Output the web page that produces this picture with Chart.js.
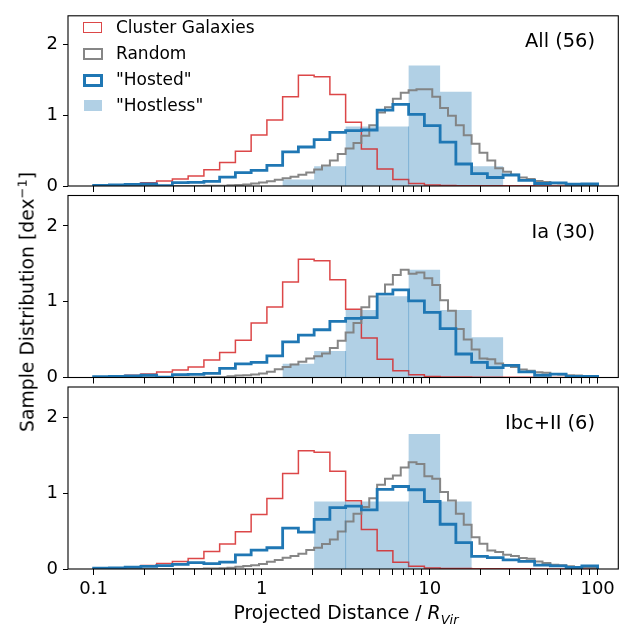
<!DOCTYPE html>
<html>
<head>
<meta charset="utf-8">
<script src="https://cdn.jsdelivr.net/npm/chart.js@4/dist/chart.umd.min.js"></script>
<style>
  html, body { margin: 0; padding: 0; background: #fff; }
  #wrap { position: relative; width: 643px; height: 631px; overflow: hidden; font-family: 'DejaVu Sans', sans-serif; color: #000; }
  #wrap canvas { position: absolute; left: 0; top: 0; }
  .txt { position: absolute; white-space: nowrap; }
  .box { position: absolute; box-sizing: border-box; }
</style>
</head>
<body>
<div id="wrap">
  <canvas id="c1" width="643" height="631"></canvas>
  <canvas id="c2" width="643" height="631"></canvas>
  <canvas id="c3" width="643" height="631"></canvas>

  <!-- leyenda (panel superior) -->
  <div class="box" style="left:83.4px;top:21.7px;width:19px;height:11.6px;border:1.5px solid rgba(214,39,40,0.85)"></div>
  <div class="box" style="left:83.2px;top:47.6px;width:19.4px;height:12.2px;border:2px solid rgba(127,127,127,0.95)"></div>
  <div class="box" style="left:82.7px;top:73.5px;width:20.4px;height:13px;border:3px solid #1f77b4"></div>
  <div class="box" style="left:84.2px;top:99.6px;width:17.4px;height:11.6px;background:rgba(31,119,180,0.35)"></div>
  <div class="txt" style="left:116px;top:18.5px;font-size:17px;line-height:17px">Cluster Galaxies</div>
  <div class="txt" style="left:116px;top:44.7px;font-size:17px;line-height:17px">Random</div>
  <div class="txt" style="left:116px;top:70.9px;font-size:17px;line-height:17px">"Hosted"</div>
  <div class="txt" style="left:116px;top:97px;font-size:17px;line-height:17px">"Hostless"</div>

  <div class="txt" id="lab0" style="right:48px;top:31px;font-size:19.4px;line-height:19.4px"></div>
  <div class="txt" id="lab1" style="right:48px;top:222px;font-size:19.4px;line-height:19.4px"></div>
  <div class="txt" id="lab2" style="right:48px;top:413px;font-size:19.4px;line-height:19.4px"></div>

  <div class="txt" style="left:28px;top:302px;font-size:18.8px;line-height:18.8px;transform:translate(-50%,-50%) rotate(-90deg)">Sample Distribution [dex<sup style="font-size:13px;line-height:0">−1</sup>]</div>
  <div class="txt" style="left:71px;width:550px;top:604px;text-align:center;font-size:18.8px;line-height:18.8px">Projected Distance / <i>R</i><sub style="font-size:13px;line-height:0"><i>Vir</i></sub></div>
</div>

<script>
// --- Bordes de los bins ---
const fineEdges = [0.1, 0.12409, 0.15399, 0.19110, 0.23714, 0.29427, 0.36517, 0.45316, 0.56234, 0.69783,
  0.86596, 1.07461, 1.33352, 1.65482, 2.05353, 2.54829, 3.16228, 3.92419, 4.86968, 6.04296,
  7.49894, 9.30572, 11.5478, 14.3301, 17.7828, 22.0673, 27.3842, 33.9821, 42.1697, 52.3299,
  64.9382, 80.5842, 100];

const randomEdges = [0.1, 0.11140, 0.12409, 0.13823, 0.15399, 0.17154, 0.19110, 0.21288, 0.23714, 0.26417,
  0.29427, 0.32781, 0.36517, 0.40679, 0.45316, 0.50481, 0.56234, 0.62643, 0.69783, 0.77736,
  0.86596, 0.96466, 1.07461, 1.19709, 1.33352, 1.48551, 1.65482, 1.84342, 2.05353, 2.28757,
  2.54829, 2.83873, 3.16228, 3.52269, 3.92419, 4.37144, 4.86968, 5.42469, 6.04296, 6.73169,
  7.49894, 8.35363, 9.30572, 10.3663, 11.5478, 12.8639, 14.3301, 15.9634, 17.7828, 19.8096,
  22.0673, 24.5824, 27.3842, 30.5053, 33.9821, 37.8552, 42.1697, 46.9759, 52.3299, 58.2942,
  64.9382, 72.3394, 80.5842, 89.7687, 100];

const hostlessEdges = [0.1, 0.15399, 0.23714, 0.36517, 0.56234, 0.86596, 1.33352, 2.05353, 3.16228,
  4.86968, 7.49894, 11.5478, 17.7828, 27.3842, 42.1697, 64.9382, 100];

// bordes de barras donde se ve una costura fina
const hostlessSeams = [3.16228, 7.49894];

// --- Series ---
const clusterGal = [0.009, 0.018, 0.03, 0.045, 0.072, 0.10, 0.14, 0.23, 0.33, 0.49, 0.72, 0.93, 1.26, 1.56, 1.54, 1.29,
  0.90, 0.52, 0.24, 0.09, 0.035, 0.013, 0.007, 0.005, 0.004, 0.003, 0.002, 0.002, 0.001, 0.001, 0, 0];

const randomAll = [0, 0, 0, 0, 0, 0, 0, 0, 0, 0, 0, 0, 0, 0, 0.002, 0.003,
  0.005, 0.01, 0.013, 0.022, 0.035, 0.048, 0.066, 0.088, 0.11, 0.132, 0.158, 0.189, 0.232, 0.29, 0.36, 0.45,
  0.53, 0.605, 0.71, 0.855, 1.035, 1.11, 1.23, 1.316, 1.35, 1.365, 1.365, 1.26, 1.10, 0.99, 0.855, 0.715,
  0.596, 0.47, 0.36, 0.25, 0.20, 0.16, 0.12, 0.10, 0.07, 0.057, 0.04, 0.035, 0.026, 0.02, 0.015, 0.01];
const randomIa = [0, 0, 0, 0, 0, 0, 0, 0, 0, 0, 0, 0, 0, 0, 0.003, 0.005,
  0.008, 0.017, 0.026, 0.03, 0.04, 0.053, 0.075, 0.11, 0.14, 0.17, 0.207, 0.25, 0.28, 0.317, 0.39, 0.485,
  0.595, 0.72, 0.926, 1.067, 1.10, 1.226, 1.353, 1.42, 1.367, 1.384, 1.31, 1.22, 1.02, 0.88, 0.64, 0.50,
  0.37, 0.25, 0.24, 0.185, 0.163, 0.14, 0.107, 0.09, 0.068, 0.064, 0.046, 0.04, 0.03, 0.027, 0.02, 0.02];
const randomIbc = [0, 0, 0, 0, 0, 0, 0, 0, 0, 0, 0, 0, 0, 0, 0.005, 0.006,
  0.01, 0.018, 0.03, 0.04, 0.05, 0.065, 0.095, 0.12, 0.15, 0.17, 0.2, 0.25, 0.28, 0.33, 0.39, 0.496,
  0.627, 0.728, 0.816, 0.934, 1.11, 1.19, 1.233, 1.34, 1.408, 1.386, 1.224, 1.19, 1.014, 0.904, 0.728, 0.583,
  0.42, 0.333, 0.245, 0.224, 0.189, 0.17, 0.145, 0.136, 0.1, 0.08, 0.057, 0.048, 0.035, 0.026, 0.026, 0.018];

const hostedAll = [0.009, 0.017, 0.022, 0.028, 0.005, 0.048, 0.05, 0.066, 0.125, 0.19, 0.22, 0.29, 0.48, 0.55, 0.655, 0.755,
  0.78, 0.79, 1.07, 1.15, 1.01, 0.85, 0.62, 0.31, 0.175, 0.12, 0.155, 0.08, 0.035, 0.045, 0.025, 0.028];
const hostedIa = [0.012, 0.016, 0.02, 0.03, 0.004, 0.038, 0.04, 0.055, 0.12, 0.18, 0.20, 0.285, 0.47, 0.56, 0.63, 0.74,
  0.78, 0.79, 1.10, 1.155, 1.01, 0.86, 0.644, 0.31, 0.20, 0.13, 0.16, 0.075, 0.03, 0.045, 0.016, 0.016];
const hostedIbc = [0.012, 0.015, 0.025, 0.035, 0.045, 0.06, 0.085, 0.07, 0.09, 0.185, 0.25, 0.28, 0.54, 0.485, 0.655, 0.81,
  0.83, 0.78, 1.05, 1.088, 1.045, 0.89, 0.59, 0.347, 0.167, 0.15, 0.12, 0.1, 0.05, 0.04, 0.02, 0.04];

const hostlessAll = [0, 0, 0, 0, 0, 0, 0.09, 0.28, 0.84, 0.84, 1.70, 1.33, 0.28, 0, 0, 0];
const hostlessIa  = [0, 0, 0, 0, 0, 0, 0.18, 0.35, 0.89, 1.07, 1.42, 0.89, 0.53, 0, 0, 0];
const hostlessIbc = [0, 0, 0, 0, 0, 0, 0, 0.89, 0.89, 0.89, 1.78, 0.89, 0, 0, 0, 0];

const panelLabels = ['All (56)', 'Ia (30)', 'Ibc+II (6)'];

// --- Ticks ---
const xMajorTicks = [0.1, 1, 10, 100];
const xTickLabels = ['0.1', '1', '10', '100'];
const xMinorTicks = [0.2, 0.3, 0.4, 0.5, 0.6, 0.7, 0.8, 0.9, 2, 3, 4, 5, 6, 7, 8, 9, 20, 30, 40, 50, 60, 70, 80, 90];
const yTicks = [0, 1, 2];

// posiciones de cada panel (área de datos en px)
const panels = [
  { id: 'c1', top: 4, bottom: 186, random: randomAll, hosted: hostedAll, hostless: hostlessAll, xLabels: false },
  { id: 'c2', top: 195.5, bottom: 377.5, random: randomIa, hosted: hostedIa, hostless: hostlessIa, xLabels: false },
  { id: 'c3', top: 387, bottom: 569, random: randomIbc, hosted: hostedIbc, hostless: hostlessIbc, xLabels: true },
];

// histograma tipo "step" a puntos
function stepPoints(edges, values) {
  const pts = [{ x: edges[0], y: 0 }];
  values.forEach((v, i) => pts.push({ x: edges[i], y: v }));
  pts.push({ x: edges[edges.length - 1], y: 0 });
  return pts;
}

// costuras entre barras "Hostless" (antes de las lineas)
const seamPlugin = {
  id: 'seams',
  beforeDatasetDraw(chart, args) {
    if (args.index !== 2) return;
    const { ctx, scales } = chart;
    const vals = chart.$hostless;
    ctx.save();
    ctx.strokeStyle = 'rgba(31,119,180,0.35)';
    ctx.lineWidth = 1;
    hostlessSeams.forEach(e => {
      const k = hostlessEdges.indexOf(e);
      const h = Math.min(vals[k - 1], vals[k]);
      if (h <= 0) return;
      const px = scales.x.getPixelForValue(e);
      ctx.beginPath();
      ctx.moveTo(px, scales.y.getPixelForValue(0));
      ctx.lineTo(px, scales.y.getPixelForValue(h));
      ctx.stroke();
    });
    ctx.restore();
  }
};

const framePlugin = {
  id: 'frame',
  afterDraw(chart) {
    const { ctx, chartArea: a } = chart;
    ctx.save();
    ctx.strokeStyle = '#000';
    ctx.lineWidth = 1.1;
    ctx.strokeRect(a.left, a.top, a.right - a.left, a.bottom - a.top);
    ctx.restore();
  }
};

const W = 643, H = 631;
const AREA_LEFT = 68, AREA_RIGHT = 618.3;

panels.forEach((p, idx) => {
  document.getElementById('lab' + idx).textContent = panelLabels[idx];
  const xAxisH = p.xLabels ? 40 : 10;
  const lineBase = { type: 'line', stepped: true, pointRadius: 0, fill: false, clip: 0, backgroundColor: 'transparent' };

  const chart = new Chart(document.getElementById(p.id), {
    data: {
      datasets: [
        { ...lineBase, label: 'Cluster Galaxies', data: stepPoints(fineEdges, clusterGal),
          borderColor: 'rgba(214,39,40,0.85)', borderWidth: 1.5, order: 2 },
        { ...lineBase, label: 'Random', data: stepPoints(randomEdges, p.random),
          borderColor: 'rgba(127,127,127,0.95)', borderWidth: 2, order: 1 },
        { ...lineBase, label: '"Hosted"', data: stepPoints(fineEdges, p.hosted),
          borderColor: '#1f77b4', borderWidth: 2.8, order: 0 },
        { ...lineBase, label: '"Hostless"', data: stepPoints(hostlessEdges, p.hostless),
          borderColor: 'transparent', borderWidth: 0, fill: 'origin',
          backgroundColor: 'rgba(31,119,180,0.35)', order: 3 },
      ]
    },
    options: {
      responsive: false,
      animation: false,
      events: [],
      layout: { padding: { left: 0, right: W - AREA_RIGHT, top: p.top, bottom: H - p.bottom - xAxisH } },
      scales: {
        x: {
          type: 'logarithmic',
          min: 0.07034, max: 132.8,
          afterBuildTicks: (s) => {
            s.ticks = [...xMajorTicks, ...xMinorTicks].sort((a, b) => a - b).map(v => ({ value: v }));
          },
          afterFit: (s) => { s.height = xAxisH; },
          grid: { drawOnChartArea: false, drawTicks: true, tickLength: 6, tickColor: '#000', tickWidth: 1 },
          border: { display: false },
          ticks: {
            autoSkip: false, maxRotation: 0, padding: 4, color: '#000',
            font: { family: 'DejaVu Sans', size: 18 },
            callback: (v) => {
              if (!p.xLabels) return '';
              const i = xMajorTicks.indexOf(v);
              return i >= 0 ? xTickLabels[i] : '';
            }
          }
        },
        y: {
          type: 'linear',
          min: 0, max: 2.4,
          afterBuildTicks: (s) => { s.ticks = yTicks.map(v => ({ value: v })); },
          afterFit: (s) => { s.width = AREA_LEFT; },
          grid: { drawOnChartArea: false, drawTicks: true, tickLength: 5, tickColor: '#000', tickWidth: 1 },
          border: { display: false },
          ticks: { padding: 5, color: '#000', font: { family: 'DejaVu Sans', size: 18 } }
        }
      },
      plugins: { legend: { display: false }, tooltip: { enabled: false } }
    },
    plugins: [
      { id: 'hostlessRef', beforeInit(c) { c.$hostless = p.hostless; } },
      seamPlugin,
      framePlugin
    ]
  });
});
</script>
</body>
</html>
